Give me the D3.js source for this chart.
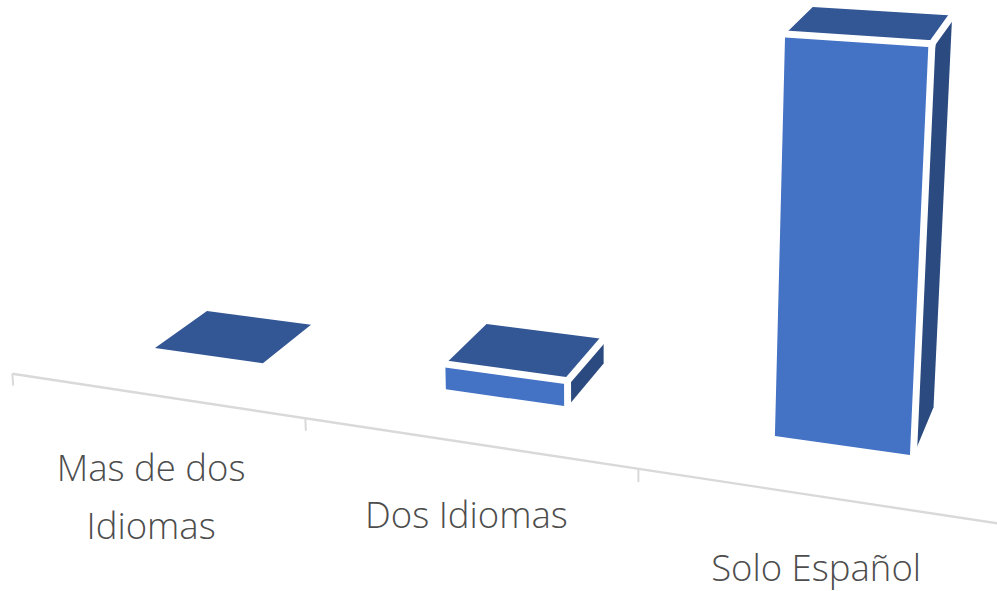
<!DOCTYPE html>
<html>
<head>
<meta charset="utf-8">
<script src="https://cdn.jsdelivr.net/npm/d3@7/dist/d3.min.js"></script>
<style>
html,body{margin:0;padding:0;background:#fff;overflow:hidden}
svg{display:block}
text{font-family:"Open Sans",sans-serif;font-size:36.5px;font-weight:300;fill:#4d4d4d;text-anchor:middle}
</style>
</head>
<body>
<svg id="c" width="997" height="591"></svg>
<script>
const categories = ["Mas de dos Idiomas", "Dos Idiomas", "Solo Español"];
const labelLines = [["Mas de dos", "Idiomas"], ["Dos Idiomas"], ["Solo Español"]];
const values = [0, 7, 100];

const W = 997, H = 591;
const svg = d3.select("#c");

// Perspective camera: three vanishing points of the Excel 3D column chart
const vpX = [-4569, -322], vpZ = [1297, -465], vpY = [595, 7526];
const origin = [70.1, 336];
const kX = -0.05696;

const xScale = d3.scaleBand().domain(categories).range([0.008, 3.008]).paddingInner(0.615).paddingOuter(0.3075);
const yScale = d3.scaleLinear().domain([0, 100]).range([0, -0.04658]);
const zScale = d3.scaleLinear().domain([0, 1]).range([0, 0.04685]);
const tickScale = d3.scaleLinear().domain([0, 3]).range([0, 3.024]);
const labelShift = [-2, 4, 1];
const axisZ = -0.045;

function project(X, v, zw) {
  const a = kX * X, c = yScale(v), w = 1 + a + zw + c;
  return [
    (a * vpX[0] + zw * vpZ[0] + c * vpY[0] + origin[0]) / w,
    (a * vpX[1] + zw * vpZ[1] + c * vpY[1] + origin[1]) / w
  ];
}
const poly = pts => pts.map(p => p.join(",")).join(" ");

// Axis
const ax = svg.append("g");
const A0 = project(0, 0, axisZ), A1 = project(3, 0, axisZ);
ax.append("line").attr("x1", A0[0]).attr("y1", A0[1]).attr("x2", A1[0]).attr("y2", A1[1])
  .attr("stroke", "#d9d9d9").attr("stroke-width", 2.4);
ax.selectAll("line.t").data(d3.range(0, categories.length)).join("line").attr("class", "t")
  .each(function (i) {
    const p = project(tickScale(i), 0, axisZ), q = project(tickScale(i), -3.4, axisZ);
    d3.select(this).attr("x1", p[0]).attr("y1", p[1]).attr("x2", q[0]).attr("y2", q[1]);
  })
  .attr("stroke", "#d9d9d9").attr("stroke-width", 2);

// Bars
const bars = svg.selectAll("g.bar").data(categories).join("g").attr("class", "bar");
bars.each(function (cat, i) {
  const g = d3.select(this), v = values[i];
  const x0 = xScale(cat), x1 = x0 + xScale.bandwidth(), z0 = zScale(0), z1 = zScale(1);
  const fbl = project(x0, 0, z0), fbr = project(x1, 0, z0), bbr = project(x1, 0, z1);
  const ftl = project(x0, v, z0), ftr = project(x1, v, z0), btl = project(x0, v, z1), btr = project(x1, v, z1);
  g.append("polygon").attr("points", poly([fbl, fbr, ftr, ftl])).attr("fill", "#4472c4");
  g.append("polygon").attr("points", poly([fbr, bbr, btr, ftr])).attr("fill", "#2a4a80");
  g.append("polygon").attr("points", poly([ftl, ftr, btr, btl])).attr("fill", "#335695");
  if (v > 0) {
    [[ftl, ftr, 7], [ftr, fbr, 7], [ftr, btr, 7]].forEach(([p, q, sw]) => {
      g.append("line").attr("x1", p[0]).attr("y1", p[1]).attr("x2", q[0]).attr("y2", q[1])
        .attr("stroke", "#fff").attr("stroke-width", sw).attr("stroke-linecap", "square");
    });
  }
});

// Category labels
svg.selectAll("text").data(categories).join("text")
  .each(function (cat, i) {
    const c = project(i + 0.5, 0, axisZ);
    d3.select(this).selectAll("tspan").data(labelLines[i]).join("tspan")
      .attr("x", c[0] + labelShift[i]).attr("y", (d, j) => c[1] + 85.5 + j * 58).text(d => d);
  });
</script>
</body>
</html>
